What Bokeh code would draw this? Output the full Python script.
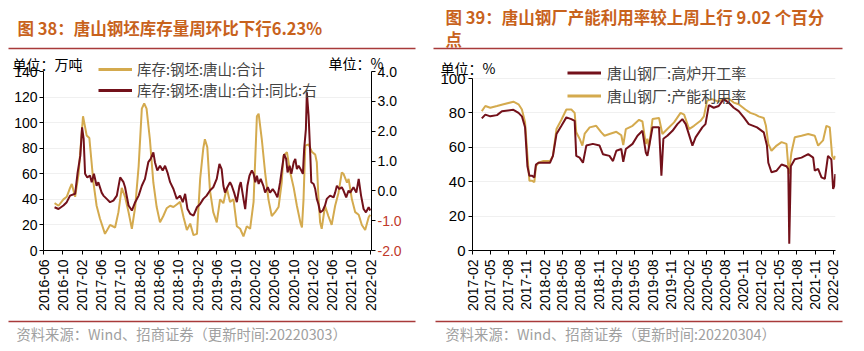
import math
import pandas as pd
from bokeh.plotting import figure
from bokeh.models import (Range1d, LinearAxis, FixedTicker, DatetimeTickFormatter,
                          Legend, LegendItem, CustomJSTickFormatter)
from bokeh.core.properties import value
from bokeh.layouts import row, column
from bokeh.embed import file_html
from bokeh.resources import INLINE

# ---------------- data: left chart (Tangshan billet inventory) ----------------
stock_dates = ["2016-08-10","2016-09-04","2016-10-05","2016-10-26","2016-11-16","2016-11-27","2016-12-18",
    "2017-01-09","2017-02-06","2017-03-01","2017-03-18","2017-04-13","2017-05-03","2017-05-24","2017-06-25",
    "2017-07-27","2017-08-28","2017-09-18","2017-10-09","2017-10-30","2017-11-21","2017-12-12","2018-01-02",
    "2018-01-24","2018-02-13","2018-02-28","2018-03-15","2018-04-05","2018-04-27","2018-05-18","2018-06-08",
    "2018-06-29","2018-07-20","2018-08-11","2018-09-01","2018-09-22","2018-10-13","2018-11-04","2018-11-25",
    "2018-12-16","2019-01-06","2019-01-28","2019-02-17","2019-03-09","2019-03-19","2019-04-03","2019-04-20",
    "2019-05-11","2019-06-02","2019-06-23","2019-07-14","2019-08-04","2019-08-25","2019-09-16","2019-10-07",
    "2019-10-28","2019-11-18","2019-12-09","2019-12-30","2020-01-21","2020-02-11","2020-02-22","2020-03-13",
    "2020-04-03","2020-04-24","2020-05-15","2020-06-05","2020-06-27","2020-07-17","2020-07-28","2020-08-19",
    "2020-09-09","2020-10-01","2020-10-21","2020-11-12","2020-11-22","2020-12-02","2020-12-13","2021-01-03",
    "2021-01-25","2021-02-14","2021-02-24","2021-03-06","2021-03-17","2021-03-27","2021-04-17","2021-05-08",
    "2021-05-29","2021-06-20","2021-07-11","2021-08-01","2021-08-12","2021-09-03","2021-09-13","2021-10-04",
    "2021-10-25","2021-11-16","2021-12-06","2021-12-27","2022-01-18","2022-01-28"]
stock_vals = [37,35,40,42,49,52,42,
    60,105,90,88,53,35,25,13,
    20,18,30,49,42,30,17,34,
    66,111,115,111,87,53,34,22,
    27,33,35,34,36,38,26,16,
    21,12,13,56,80,87,81,47,
    30,22,40,37,49,38,40,19,
    17,11,19,17,38,105,107,87,
    61,40,27,30,34,53,74,77,
    61,49,35,22,18,40,82,83,
    77,75,69,42,22,17,35,27,
    20,35,45,61,60,53,56,40,
    30,28,20,16,26,28]

yoy_dates = ["2016-08-10","2016-09-04","2016-10-05","2016-10-26","2016-11-16","2016-12-18","2017-01-03",
    "2017-01-20","2017-01-31","2017-02-10","2017-02-19","2017-03-05","2017-03-22","2017-04-02","2017-04-16",
    "2017-05-03","2017-05-14","2017-06-04","2017-06-15","2017-07-06","2017-07-27","2017-08-17","2017-09-08",
    "2017-09-29","2017-10-20","2017-10-30","2017-11-21","2017-12-12","2018-01-02","2018-01-24","2018-02-13",
    "2018-03-05","2018-03-26","2018-04-10","2018-04-27","2018-05-07","2018-05-22","2018-06-08","2018-06-25",
    "2018-07-10","2018-07-25","2018-08-11","2018-09-01","2018-09-22","2018-10-13","2018-10-30","2018-11-14",
    "2018-11-29","2018-12-16","2019-01-06","2019-01-28","2019-02-17","2019-03-09","2019-03-30","2019-04-20",
    "2019-05-11","2019-06-02","2019-06-19","2019-07-03","2019-07-14","2019-07-24","2019-08-08","2019-08-25",
    "2019-09-05","2019-09-20","2019-10-07","2019-10-24","2019-11-01","2019-11-18","2019-11-29","2019-12-13",
    "2019-12-26","2020-01-10","2020-01-21","2020-02-01","2020-02-11","2020-02-22","2020-03-06","2020-03-23",
    "2020-04-03","2020-04-20","2020-05-04","2020-05-21","2020-06-05","2020-06-20","2020-07-07","2020-07-17",
    "2020-08-01","2020-08-14","2020-08-23","2020-09-05","2020-09-16","2020-10-01","2020-10-11","2020-10-21",
    "2020-11-01","2020-11-18","2020-11-28","2020-12-06","2020-12-17","2020-12-23","2021-01-03","2021-01-14",
    "2021-01-20","2021-02-04","2021-02-14","2021-02-24","2021-03-06","2021-03-17","2021-04-03","2021-04-17",
    "2021-04-28","2021-05-19","2021-06-10","2021-06-20","2021-07-01","2021-07-17","2021-08-01","2021-08-12",
    "2021-08-29","2021-09-13","2021-09-23","2021-10-14","2021-11-01","2021-11-16","2021-12-01","2021-12-17",
    "2022-01-01","2022-01-18","2022-01-28"]
yoy_vals = [-0.55,-0.61,-0.49,-0.38,-0.16,-0.10,0.62,
    1.18,2.13,1.74,0.57,0.45,0.51,0.29,0.57,
    0.17,0.29,-0.06,-0.16,-0.27,-0.38,-0.33,-0.16,
    0.45,0.29,0.12,-0.49,-0.66,-0.38,-0.16,0.17,
    0.40,0.96,1.07,1.29,0.96,0.68,0.84,0.68,
    0.84,0.62,0.29,0.06,-0.27,-0.16,-0.38,-0.10,
    -0.61,-0.77,-0.83,-0.55,-0.44,-0.27,-0.16,0.01,
    0.12,0.40,0.90,0.73,0.17,-0.06,0.12,0.29,
    0.17,-0.06,-0.38,0.17,0.29,-0.27,-0.61,0.17,
    0.51,0.68,0.57,0.29,0.51,0.23,0.40,0.17,
    -0.06,0.12,-0.06,0.06,-0.06,-0.22,0.29,0.68,
    1.23,1.07,0.62,0.84,0.57,0.96,1.07,0.73,
    0.84,0.68,0.57,1.40,2.07,3.30,2.52,1.18,
    0.29,0.23,0.06,-0.27,-0.44,-0.72,-0.66,-0.49,
    -0.27,-0.16,-0.22,-0.06,0.17,0.06,0.12,0.01,
    -0.22,0.01,-0.06,0.12,-0.06,0.40,-0.16,-0.61,
    -0.72,-0.55,-0.66]

left_ticks = ["2016-06","2016-10","2017-02","2017-06","2017-10","2018-02","2018-06","2018-10","2019-02",
    "2019-06","2019-10","2020-02","2020-06","2020-10","2021-02","2021-06","2021-10","2022-02"]
left_y_ticks = [0, 20, 40, 60, 80, 100, 120, 140]
right_axis_ticks = [-2, -1, 0, 1, 2, 3, 4]
neg_ticks = [-1, -2]

# ---------------- data: right chart (Tangshan mills) ----------------
util_dates = ["2017-03-20","2017-04-07","2017-05-02","2017-06-05","2017-07-08","2017-08-27","2017-09-22",
    "2017-10-09","2017-10-25","2017-11-06","2017-11-16","2017-11-28","2017-12-11","2017-12-19","2018-01-01",
    "2018-01-26","2018-02-28","2018-03-15","2018-04-02","2018-04-27","2018-05-22","2018-06-16","2018-07-03",
    "2018-07-11","2018-07-28","2018-08-11","2018-08-23","2018-09-17","2018-10-20","2018-11-15","2018-12-01",
    "2018-12-26","2019-01-30","2019-02-24","2019-03-06","2019-03-19","2019-04-22","2019-05-25","2019-06-11",
    "2019-06-28","2019-07-06","2019-07-14","2019-08-01","2019-09-03","2019-09-20","2019-10-15","2019-11-18",
    "2019-12-21","2020-01-08","2020-02-02","2020-02-27","2020-03-31","2020-04-17","2020-05-03","2020-05-28",
    "2020-07-01","2020-07-26","2020-08-20","2020-09-15","2020-10-10","2020-11-13","2020-12-08","2021-01-03",
    "2021-01-19","2021-02-14","2021-02-25","2021-03-09","2021-03-25","2021-04-20","2021-05-15","2021-06-09",
    "2021-06-21","2021-07-04","2021-07-21","2021-08-24","2021-09-27","2021-10-30","2021-11-16","2021-12-11",
    "2021-12-28","2022-01-14","2022-01-26","2022-02-05","2022-02-11"]
util_vals = [81,84,83,84,85,86.5,85,
    82,74.5,55,40.6,40.6,39.7,49,51,
    52,52,55,70.6,76,82,82,80,
    68.7,65,61,68,71.6,72.5,68.7,66.7,
    67.7,69,67,61.3,70.6,72.5,76,75,
    62,65,60,76.4,77,67.7,70.6,74.5,
    80,79,70.6,72.5,75.4,78,87,88,
    86.5,88.4,88.4,86,85,82,80,79,
    78,77,72.5,62,58,61,63,62,
    44.5,57,65.8,66.7,67.7,66.7,61,64,
    72.5,71.6,55,53,55]

bf_dates = ["2017-03-20","2017-04-07","2017-05-02","2017-06-05","2017-06-30","2017-08-27","2017-09-22",
    "2017-10-09","2017-10-25","2017-11-06","2017-11-16","2017-11-28","2017-12-11","2017-12-19","2018-01-01",
    "2018-02-28","2018-03-15","2018-04-02","2018-04-27","2018-05-22","2018-06-16","2018-07-03","2018-07-11",
    "2018-07-28","2018-08-14","2018-08-31","2018-10-03","2018-11-06","2018-11-23","2018-12-26","2019-01-13",
    "2019-01-30","2019-02-24","2019-03-06","2019-03-19","2019-04-22","2019-05-17","2019-06-11","2019-06-28",
    "2019-07-06","2019-07-14","2019-08-01","2019-09-03","2019-09-15","2019-09-25","2019-10-15","2019-11-10",
    "2019-12-05","2019-12-30","2020-01-16","2020-02-19","2020-03-06","2020-04-09","2020-04-25","2020-05-12",
    "2020-06-06","2020-07-01","2020-07-26","2020-08-20","2020-09-15","2020-10-10","2020-11-05","2020-11-30",
    "2021-01-11","2021-02-14","2021-03-02","2021-03-09","2021-03-25","2021-04-20","2021-05-15","2021-06-09",
    "2021-06-18","2021-06-23","2021-07-01","2021-07-21","2021-08-24","2021-09-27","2021-10-22","2021-10-30",
    "2021-11-16","2021-12-03","2021-12-20","2022-01-05","2022-01-22","2022-01-31","2022-02-06","2022-02-11"]
bf_vals = [76.8,79,78,78.7,81,81.8,80,
    78,71.6,49,43.5,43.5,42.5,50,51,
    51,55,67.7,72.5,77.4,76.4,75.4,55,
    54,51,61,62,61,56,55,52,
    58,59,51.6,59,62,66.7,69.6,57,
    55,60,71.6,71.6,43.5,65,66.7,69.6,
    73.5,76.4,73.5,61,65.8,71.6,73.5,84.5,
    83,84,88,86,83,81,77.4,73.5,
    71.6,68.7,61,51,45.5,46.4,50,49,
    47.4,3.9,49,53,54,56,54,46.4,
    47.4,42.5,41.6,55,53,35.8,37.7,44.5]

right_ticks = ["2017-02","2017-05","2017-08","2017-11","2018-02","2018-05","2018-08","2018-11","2019-02",
    "2019-05","2019-08","2019-11","2020-02","2020-05","2020-08","2020-11","2021-02","2021-05","2021-08",
    "2021-11","2022-02"]
right_y_ticks = [0, 20, 40, 60, 80, 100]

# ---------------- layout / styling ----------------
CJK = "Noto Sans CJK SC"
LAT = "Liberation Sans"
GOLD = "#D4AA4E"
DARK = "#73111A"
TITLE_C = "#C8621C"
RULE_C = "#A83A3A"
SRC_C = "#A0A0A0"
NEG_C = "#C0392B"
W, H = 864, 351
FT = 71            # common frame top (pixels)
FB = 250           # common frame bottom
FT2_TOP_TICK = 78  # pixel of the 100 tick in the right chart
FL1, FR1 = 43, 371
W1 = 430
FL2, FR2 = 42, 405
W2 = W - W1


def ms(s):
    return pd.Timestamp(s).value / 1e6


def fmt_dt():
    f = "%Y-%m"
    return DatetimeTickFormatter(milliseconds=f, seconds=f, minsec=f, minutes=f, hourmin=f, hours=f,
                                 days=f, months=f, years=f)


def style_axis(ax, size="14px"):
    ax.axis_line_color = "black"
    ax.axis_line_width = 1
    ax.major_tick_line_color = "black"
    ax.major_tick_out = 4
    ax.major_tick_in = 0
    ax.minor_tick_line_color = None
    ax.major_label_text_font = LAT
    ax.major_label_text_font_size = size
    ax.major_label_text_color = "black"


def base_fig(width, fl, fr, x0, x1, y0, y1):
    p = figure(width=width, height=H, x_axis_type="datetime", output_backend="svg",
               toolbar_location=None, x_range=Range1d(ms(x0), ms(x1)), y_range=Range1d(y0, y1),
               min_border_left=fl, min_border_right=width - fr, min_border_top=FT,
               min_border_bottom=H - FB)
    p.outline_line_color = None
    p.xgrid.grid_line_color = None
    p.ygrid.grid_line_color = "#F0F0F0"
    p.background_fill_alpha = 0
    p.border_fill_alpha = 0
    return p


# ================= left chart =================
p1 = base_fig(W1, FL1, FR1, "2016-06-01", "2022-02-05", 0, 140)
p1.extra_y_ranges = {"pct": Range1d(-2, 4)}
p1.yaxis.ticker = FixedTicker(ticks=left_y_ticks)
style_axis(p1.yaxis[0])
p1.yaxis.major_label_standoff = 2
p1.xaxis.ticker = FixedTicker(ticks=[ms(t + "-01") for t in left_ticks])
p1.xaxis.formatter = fmt_dt()
p1.xaxis.major_label_orientation = math.pi / 2
style_axis(p1.xaxis[0])

rax = LinearAxis(y_range_name="pct", ticker=FixedTicker(ticks=right_axis_ticks),
                 formatter=CustomJSTickFormatter(code="return tick < 0 ? '' : tick.toFixed(1);"))
style_axis(rax)
rax.major_label_standoff = 2
p1.add_layout(rax, "right")

p1.line([ms(d) for d in stock_dates], stock_vals, color=GOLD, line_width=2)
p1.line([ms(d) for d in yoy_dates], yoy_vals, color=DARK, line_width=2, y_range_name="pct")

# ================= right chart =================
top2 = 100 * (FB - FT) / (FB - FT2_TOP_TICK)
p2 = base_fig(W2, FL2, FR2, "2017-02-01", "2022-02-12", 0, top2)
p2.yaxis.ticker = FixedTicker(ticks=right_y_ticks)
p2.yaxis.bounds = (0, 100)
style_axis(p2.yaxis[0], "15px")
p2.yaxis.major_label_standoff = 3
p2.xaxis.ticker = FixedTicker(ticks=[ms(t + "-01") for t in right_ticks])
p2.xaxis.formatter = fmt_dt()
p2.xaxis.major_label_orientation = math.pi / 2
style_axis(p2.xaxis[0])

p2.line([ms(d) for d in util_dates], util_vals, color=GOLD, line_width=2)
p2.line([ms(d) for d in bf_dates], bf_vals, color=DARK, line_width=2)

# ================= overlay (titles, rules, units, legends, sources) =================
ov = figure(width=W, height=H, x_range=Range1d(0, W), y_range=Range1d(H, 0), output_backend="svg",
            toolbar_location=None, min_border=0, x_axis_location=None, y_axis_location=None,
            margin=(-H, 0, 0, 0))
ov.grid.visible = False
ov.outline_line_color = None
ov.background_fill_alpha = 0
ov.border_fill_alpha = 0


def txt(x, y, s, size, color="black", style="normal", font=CJK, **kw):
    ov.text(x=[x], y=[y], text=[s], text_font=value(font), text_font_size=size, text_color=color,
            text_font_style=style, text_baseline="middle", text_align="left", **kw)


def rule(x0, x1, y):
    ov.segment(x0=[x0], y0=[y], x1=[x1], y1=[y], line_color=RULE_C, line_width=1.6)


txt(17, 27, "图 38：唐山钢坯库存量周环比下行6.23%", "16.5px", TITLE_C, "bold")
rule(8, 415, 48)
txt(12, 63, "单位：万吨", "14px")
txt(328, 62, "单位：%", "14px")
rule(8, 415, 321)
txt(16, 332.5, "资料来源：Wind、招商证券（更新时间:20220303）", "14.3px", SRC_C)

txt(445, 16.5, "图 39：唐山钢厂产能利用率较上周上行 9.02 个百分", "16.5px", TITLE_C, "bold")
txt(445, 38, "点", "16.5px", TITLE_C, "bold")
rule(433, 842, 48)
txt(440, 67, "单位：%", "14px")
rule(435, 842, 321)
txt(445, 332.5, "资料来源：Wind、招商证券（更新时间:20220304）", "14.3px", SRC_C)

# red negative labels of the left chart's right axis, placed through the same percent scale
ppu = (FB - FT) / (right_axis_ticks[-1] - right_axis_ticks[0])
ov.extra_y_ranges = {"pct": Range1d(right_axis_ticks[0] - (H - FB) / ppu, right_axis_ticks[-1] + FT / ppu)}
ov.text(x=[FR1 + 6] * len(neg_ticks), y=neg_ticks, text=["%.1f" % v for v in neg_ticks],
        y_range_name="pct", text_font=value(LAT), text_font_size="14px", text_color=NEG_C,
        text_baseline="middle", text_align="left")

# legend keys: one off-canvas point each so the legend has a line visual to draw
nan = float("nan")
la = ov.line([nan], [nan], color=GOLD, line_width=3)
lb = ov.line([nan], [nan], color=DARK, line_width=3)
leg1 = Legend(items=[LegendItem(label="库存:钢坯:唐山:合计", renderers=[la]),
                     LegendItem(label="库存:钢坯:唐山:合计:同比:右", renderers=[lb])],
              location=(98, H - 100), glyph_width=34, glyph_height=20, label_height=20, spacing=0,
              padding=0, margin=0, label_standoff=5, border_line_color=None,
              background_fill_alpha=0, label_text_font=CJK, label_text_font_size="14.5px")
ov.add_layout(leg1, "center")
leg2 = Legend(items=[LegendItem(label="唐山钢厂:高炉开工率", renderers=[lb]),
                     LegendItem(label="唐山钢厂:产能利用率", renderers=[la])],
              location=(567, H - 107), glyph_width=34, glyph_height=23, label_height=23, spacing=0,
              padding=0, margin=0, label_standoff=6, border_line_color=None,
              background_fill_alpha=0, label_text_font=CJK, label_text_font_size="15px")
ov.add_layout(leg2, "center")

layout = column(row(p1, p2, spacing=0), ov, spacing=0)
open("out.html", "w").write(file_html(layout, INLINE))
